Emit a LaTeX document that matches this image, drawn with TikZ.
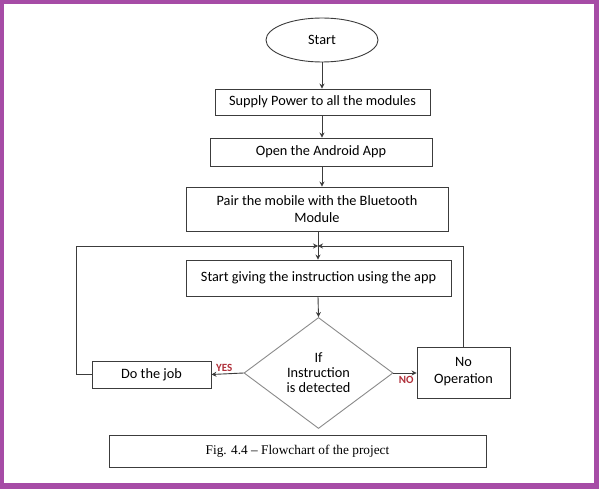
\documentclass[tikz,border=0pt]{standalone}
\usepackage{fontspec}
\setmainfont{Carlito}
\newfontfamily\capfont[Ligatures=TeX]{Liberation Serif}
\usetikzlibrary{shapes.geometric,arrows.meta}
\definecolor{frame}{HTML}{A64CA6}
\definecolor{edge}{HTML}{3C3C3C}
\definecolor{dia}{HTML}{8A8A8A}
\definecolor{lbl}{HTML}{B0303A}
\tikzset{
  txt/.style={font=\fontsize{14.3}{16.5}\selectfont},
  box/.style={draw=edge, line width=0.9pt, minimum height=#1, inner sep=0pt, align=center, txt},
  flow/.style={draw=edge, line width=0.9pt, -{Stealth[length=5pt,width=5pt]}},
  lab/.style={text=lbl, font=\fontsize{11}{12}\selectfont\bfseries, inner sep=1pt}
}
\begin{document}
\begin{tikzpicture}[x=1pt,y=-1pt]
\fill[frame] (0,0) rectangle (599,489);
\fill[white] (4,4) rectangle (594,483);
\useasboundingbox (0,0) rectangle (599,489);

\node[draw=edge, line width=0.9pt, ellipse, minimum width=112pt, minimum height=44pt, inner sep=0pt, txt] (start) at (322,40) {Start};
\node[box=26pt, minimum width=215pt] (supply) at (322.5,102) {Supply Power to all the modules};
\node[box=28pt, minimum width=222pt] (open) at (321,152) {Open the Android App};
\node[box=44pt, minimum width=262pt] (pair) at (317,209) {Pair the mobile with the Bluetooth\\Module};
\node[box=36pt, minimum width=265pt] (give) at (318.5,278) {Start giving the instruction using the app};
\node[draw=dia, line width=0.9pt, diamond, minimum width=149pt, minimum height=111pt, inner sep=0pt, align=center, font=\fontsize{14.3}{15}\selectfont] (dec) at (318.5,373) {If\\Instruction\\is detected};
\node[box=27pt, minimum width=119pt] (job) at (151.5,374.5) {Do the job};
\node[box=51pt, minimum width=93pt, text depth=4pt] (noop) at (463.5,372.5) {No\\Operation};
\node[draw=edge, line width=0.9pt, minimum width=377pt, minimum height=32pt, font=\capfont\fontsize{13.3}{15}\selectfont] (cap) at (297.5,451) {Fig. 4.4 – Flowchart of the project};

\coordinate (j) at (318,246);

\draw[flow] (start) -- (start |- supply.north);
\draw[flow] (start |- supply.south) -- (start |- open.north);
\draw[flow] (start |- open.south) -- (start |- pair.north);
\draw[flow] (j |- pair.south) -- (j |- give.north);
\draw[flow] (j |- give.south) -- (dec.north);
\draw[flow] (dec.west) -- (job.east) node[lab, pos=0.6, above, yshift=1pt] {YES};
\draw[flow] (dec.east) -- (dec.east -| noop.west) node[lab, pos=0.55, below, yshift=-2pt] {NO};
\draw[flow] (job.west) -- ++(-15,0) |- (j);
\draw[flow] (noop.north) |- (j);
\end{tikzpicture}
\end{document}
